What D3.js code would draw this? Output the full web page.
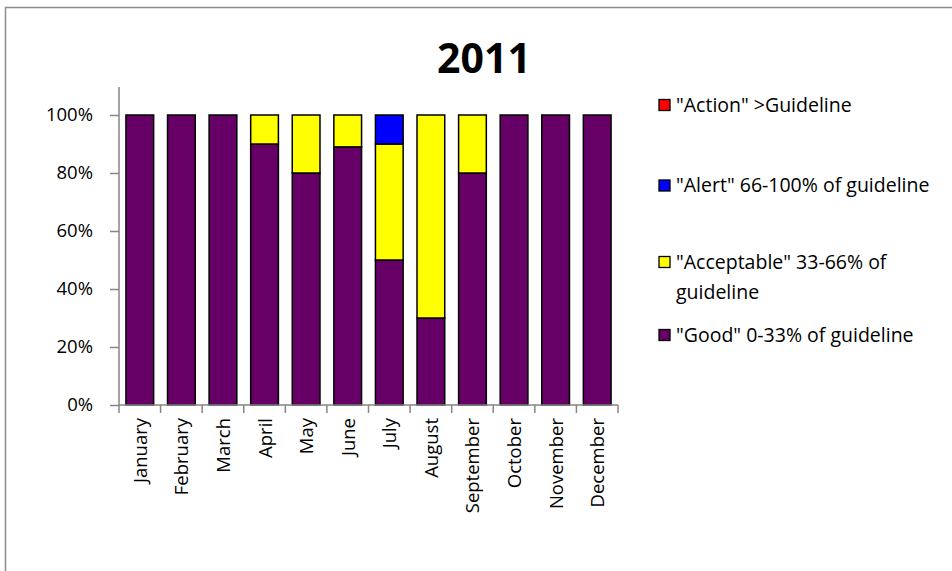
<!DOCTYPE html>
<html>
<head>
<meta charset="utf-8">
<script src="https://cdn.jsdelivr.net/npm/d3@7"></script>
<style>
  html, body { margin: 0; padding: 0; background: #fff; }
  svg { display: block; }
  text { font-family: "Open Sans", sans-serif; fill: #000; }
</style>
</head>
<body>
<svg id="chart" width="952" height="571"></svg>
<script>
// ---- data ----
const title = "2011";
const months = ["January","February","March","April","May","June","July","August","September","October","November","December"];
const good       = [100, 100, 100, 90, 80, 89, 50, 30, 80, 100, 100, 100];
const acceptable = [0, 0, 0, 10, 20, 11, 40, 70, 20, 0, 0, 0];
const alert      = [0, 0, 0, 0, 0, 0, 10, 0, 0, 0, 0, 0];
const action     = [0, 0, 0, 0, 0, 0, 0, 0, 0, 0, 0, 0];
const seriesNames = ['"Good" 0-33% of guideline', '"Acceptable" 33-66% of guideline', '"Alert" 66-100% of guideline', '"Action" >Guideline'];
const seriesColors = ["#660066", "#ffff00", "#0000ff", "#ff0000"];
const yTicks = [0, 20, 40, 60, 80, 100];

// ---- layout ----
const svg = d3.select("#chart");
const plot = { left: 119, right: 618, top: 115, bottom: 405 };
const axisColor = "#868686";

// outer chart border
svg.append("rect").attr("x", 5.5).attr("y", 7.5).attr("width", 960).attr("height", 580)
  .attr("fill", "none").attr("stroke", "#8c8c8c").attr("stroke-width", 1.5);

const x = d3.scaleBand().domain(months).range([plot.left, plot.right]).paddingInner(1/3).paddingOuter(1/6);
const y = d3.scaleLinear().domain([0, 100]).range([plot.bottom, plot.top]);

// stacked data
const rows = months.map((m, i) => ({ month: m, good: good[i], acceptable: acceptable[i], alert: alert[i], action: action[i] }));
const keys = ["good", "acceptable", "alert", "action"];
const stack = d3.stack().keys(keys)(rows);

const gBars = svg.append("g");
stack.forEach((layer, li) => {
  gBars.selectAll(null).data(layer.filter(d => d[1] - d[0] > 0)).join("rect")
    .attr("x", d => x(d.data.month))
    .attr("width", x.bandwidth())
    .attr("y", d => y(d[1]))
    .attr("height", d => y(d[0]) - y(d[1]))
    .attr("fill", seriesColors[li])
    .attr("stroke", "#000")
    .attr("stroke-width", 1.5);
});

// y axis
const yAxis = d3.axisLeft(y).tickValues(yTicks).tickFormat(d => d + "%").tickSize(9).tickPadding(17);
const gy = svg.append("g").attr("transform", `translate(${plot.left},0)`).call(yAxis);
gy.select(".domain").attr("d", `M0,87V${plot.bottom}`);
gy.selectAll("path, line").attr("stroke", axisColor).attr("stroke-width", 1.5);
gy.selectAll("text").style("font-size", "18.5px").style("font-family", '"Open Sans", sans-serif');

// x axis
const xTickPos = d3.range(months.length + 1).map(i => plot.left + i * (plot.right - plot.left) / months.length);
const gx = svg.append("g");
gx.append("line").attr("x1", plot.left).attr("x2", plot.right).attr("y1", plot.bottom).attr("y2", plot.bottom)
  .attr("stroke", axisColor).attr("stroke-width", 1.5);
gx.selectAll("line.tick").data(xTickPos).join("line").attr("class", "tick")
  .attr("x1", d => d).attr("x2", d => d).attr("y1", plot.bottom).attr("y2", plot.bottom + 8)
  .attr("stroke", axisColor).attr("stroke-width", 1.5);
gx.selectAll("text").data(months).join("text")
  .attr("transform", d => `translate(${x(d) + x.bandwidth() / 2 + 7},418) rotate(-90)`)
  .attr("text-anchor", "end")
  .style("font-size", "18.5px")
  .text(d => d);

// title
svg.append("text").attr("x", 484).attr("y", 73).attr("text-anchor", "middle")
  .style("font-size", "41px").style("font-weight", "bold").text(title);

// legend (top to bottom: Action, Alert, Acceptable, Good)
const legendItems = [
  { name: seriesNames[3], color: seriesColors[3], y: 105, lines: ['"Action" >Guideline'] },
  { name: seriesNames[2], color: seriesColors[2], y: 185.5, lines: ['"Alert" 66-100% of guideline'] },
  { name: seriesNames[1], color: seriesColors[1], y: 262, lines: ['"Acceptable" 33-66% of', 'guideline'] },
  { name: seriesNames[0], color: seriesColors[0], y: 335, lines: ['"Good" 0-33% of guideline'] }
];
const gl = svg.append("g");
legendItems.forEach(it => {
  gl.append("rect").attr("x", 659).attr("y", it.y - 5.5).attr("width", 11).attr("height", 11)
    .attr("fill", it.color).attr("stroke", "#000").attr("stroke-width", 1.3);
  it.lines.forEach((ln, k) => {
    gl.append("text").attr("x", 676).attr("y", it.y + 6.5 + k * 30)
      .style("font-size", "19.5px").text(ln);
  });
});
</script>
</body>
</html>
